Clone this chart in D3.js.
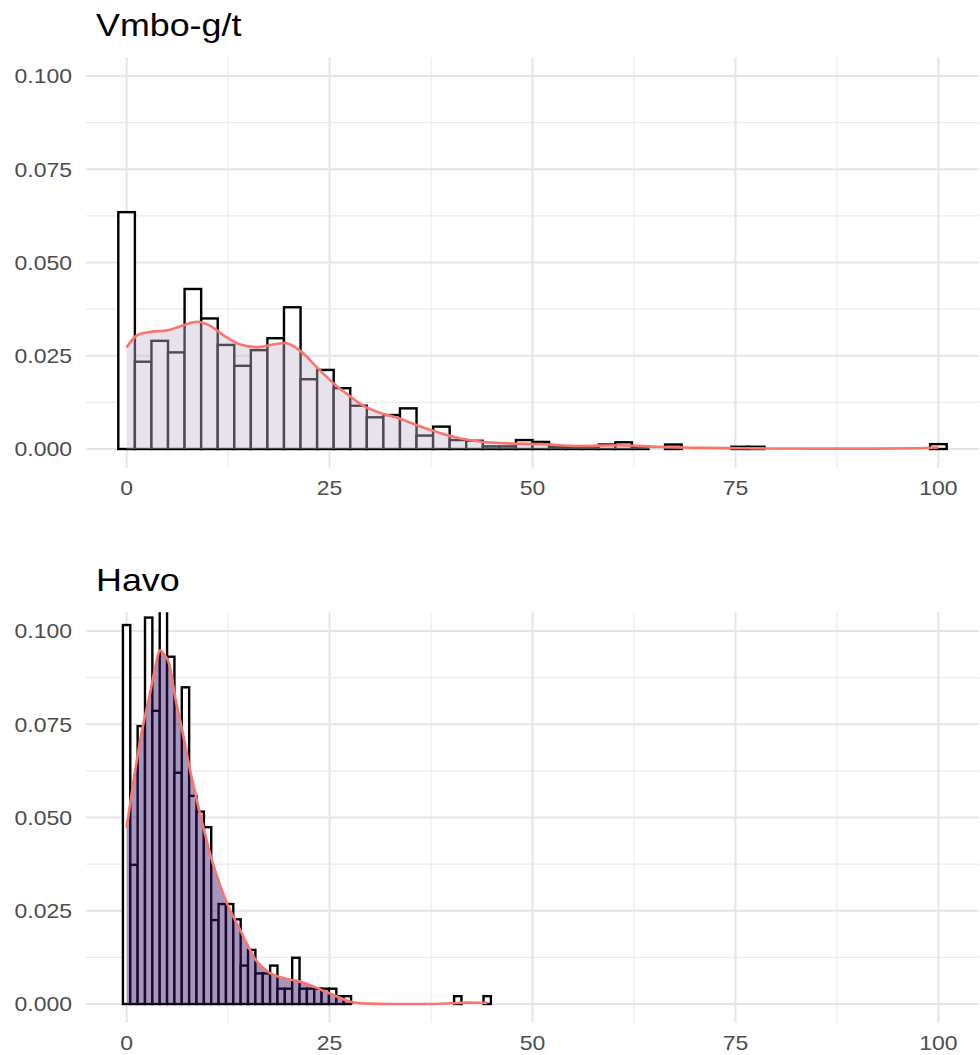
<!DOCTYPE html>
<html><head><meta charset="utf-8">
<script src="https://cdn.jsdelivr.net/npm/d3@7"></script>
<style>body{margin:0;background:#fff} svg{display:block}</style>
</head><body><svg id="chart" width="980" height="1055"></svg>
<script>
// ---------- data ----------
const panelTitles = ["Vmbo-g/t", "Havo"];
const xTicks = [0, 25, 50, 75, 100];
const xTickLabels = ["0", "25", "50", "75", "100"];
const xMinor = [12.5, 37.5, 62.5, 87.5];
const yTicks = [0, 0.025, 0.05, 0.075, 0.1];
const yTickLabels = ["0.000", "0.025", "0.050", "0.075", "0.100"];
const yMinor = [0.0125, 0.0375, 0.0625, 0.0875];

// histogram: 50 bins centred from 0 to the data maximum
const vmboMax = 100;
const vmboHist = [0.0635, 0.0234, 0.0290, 0.0259, 0.0429, 0.0350, 0.0279, 0.0223, 0.0265, 0.0297,
  0.0380, 0.0187, 0.0212, 0.0163, 0.0116, 0.0085, 0.0091, 0.0109, 0.0036, 0.0060,
  0.0024, 0.0022, 0.0007, 0.0007, 0.0024, 0.0019, 0.0006, 0.0006, 0.0006, 0.0012,
  0.0018, 0.0006, 0, 0.0012, 0, 0, 0, 0.0006, 0.0006, 0,
  0, 0, 0, 0, 0, 0, 0, 0, 0, 0.0013];
const havoMax = 44.42;
const havoHist = [0.1016, 0.0373, 0.0745, 0.1036, 0.0786, 0.1120, 0.0931, 0.0620, 0.0849, 0.0558,
  0.0516, 0.0474, 0.0225, 0.0268, 0.0268, 0.0227, 0.0103, 0.0145, 0.0082, 0.0082,
  0.0103, 0.0041, 0.0041, 0.0124, 0.0041, 0.0041, 0.0041, 0.0041, 0.0041, 0.0021,
  0.0021, 0, 0, 0, 0, 0, 0, 0, 0, 0,
  0, 0, 0, 0, 0, 0.0021, 0, 0, 0, 0.0021];

// density curves
const vmboDensX = [0, 1.3, 3, 5, 7, 8.7, 10.3, 12, 14, 16, 18, 19.5, 21.4, 23.5, 25.5, 27.6, 29,
  31.2, 33.7, 36.1, 38.6, 41, 43.5, 47, 51, 55.7, 60.6, 65.5, 70.3, 76, 85, 92, 97, 100];
const vmboDensY = [0.0272, 0.0305, 0.0314, 0.0318, 0.0332, 0.0341, 0.0330, 0.0304, 0.0280, 0.0273,
  0.0280, 0.0284, 0.0263, 0.0218, 0.0176, 0.0140, 0.0118, 0.0097, 0.0081, 0.0061, 0.0043,
  0.0029, 0.0020, 0.0015, 0.0013, 0.0008, 0.0010, 0.0006, 0.0003, 0.0002, 0.0001, 0.0001,
  0.0002, 0.0004];
const havoDensX = [0, 0.8, 1.7, 3.0, 3.6, 4.1, 4.7, 5.2, 6.1, 6.65, 7.9, 9.1, 10.75, 12.4, 14.0,
  15.1, 15.9, 17.3, 19.4, 21.0, 23.1, 25.5, 27.6, 29.5, 33, 37, 40, 42, 44.42];
const havoDensY = [0.0473, 0.0590, 0.0710, 0.0845, 0.0910, 0.0948, 0.0935, 0.0915, 0.0810, 0.0755,
  0.0619, 0.0505, 0.0368, 0.0268, 0.0198, 0.0149, 0.0118, 0.0088, 0.0069, 0.0062, 0.0046,
  0.0024, 0.0006, 0.0001, 0, 0, 0.0002, 0.0004, 0.0003];

const panels = [
  {title: panelTitles[0], max: vmboMax, hist: vmboHist, dx: vmboDensX, dy: vmboDensY,
   top: 57.35, fill: "rgb(198,183,210)", alpha: 0.4},
  {title: panelTitles[1], max: havoMax, hist: havoHist, dx: havoDensX, dy: havoDensY,
   top: 612.35, fill: "rgb(60,22,104)", alpha: 0.45}
];

// ---------- drawing ----------
const svg = d3.select("#chart");
const left = 86, right = 979, panelH = 410.3;
const x = d3.scaleLinear().domain([-5, 105]).range([left, right]);
const SX = 1.15;

panels.forEach((p, pi) => {
  const y = d3.scaleLinear().domain([-0.005, 0.105]).range([p.top + panelH, p.top]);
  const g = svg.append("g");
  const clipId = "clip" + pi;
  svg.append("clipPath").attr("id", clipId).append("rect")
    .attr("x", left).attr("y", p.top).attr("width", right - left).attr("height", panelH);

  // grid
  g.selectAll(".vmin").data(xMinor).join("line")
    .attr("x1", d => x(d)).attr("x2", d => x(d)).attr("y1", p.top).attr("y2", p.top + panelH)
    .attr("stroke", "#EBEBEB").attr("stroke-width", 1.1);
  g.selectAll(".hmin").data(yMinor).join("line")
    .attr("y1", d => y(d)).attr("y2", d => y(d)).attr("x1", left).attr("x2", right)
    .attr("stroke", "#EBEBEB").attr("stroke-width", 1.1);
  g.selectAll(".vmaj").data(xTicks).join("line")
    .attr("x1", d => x(d)).attr("x2", d => x(d)).attr("y1", p.top).attr("y2", p.top + panelH)
    .attr("stroke", "#E6E6E6").attr("stroke-width", 2.1);
  g.selectAll(".hmaj").data(yTicks).join("line")
    .attr("y1", d => y(d)).attr("y2", d => y(d)).attr("x1", left).attr("x2", right)
    .attr("stroke", "#E6E6E6").attr("stroke-width", 2.1);

  // histogram
  const w = p.max / (p.hist.length - 1);
  const gc = g.append("g").attr("clip-path", `url(#${clipId})`);
  gc.selectAll("rect.bar").data(p.hist).join("rect").attr("class", "bar")
    .attr("x", (d, i) => x(i * w - w / 2))
    .attr("width", (d, i) => x(i * w + w / 2) - x(i * w - w / 2))
    .attr("y", d => y(d))
    .attr("height", d => y(0) - y(d))
    .attr("fill", "#fff").attr("stroke", "#000").attr("stroke-width", 2.4);

  // density
  const pts = p.dx.map((v, i) => [v, p.dy[i]]);
  const area = d3.area().x(d => x(d[0])).y0(y(0)).y1(d => y(d[1])).curve(d3.curveMonotoneX);
  const line = d3.line().x(d => x(d[0])).y(d => y(d[1])).curve(d3.curveMonotoneX);
  gc.append("path").attr("d", area(pts)).attr("fill", p.fill).attr("fill-opacity", p.alpha);
  gc.append("path").attr("d", line(pts)).attr("fill", "none")
    .attr("stroke", "#F8766D").attr("stroke-width", 2.6).attr("stroke-linejoin", "round");

  // axis labels
  g.selectAll(".yl").data(yTicks).join("text")
    .attr("transform", d => `translate(72,${y(d) + 7.3}) scale(${SX},1)`)
    .attr("text-anchor", "end").attr("font-family", "Liberation Sans, Arial, sans-serif")
    .attr("font-size", 20).attr("fill", "#4D4D4D")
    .text((d, i) => yTickLabels[i]);
  g.selectAll(".xl").data(xTicks).join("text")
    .attr("transform", d => `translate(${x(d)},${p.top + panelH + 27.5}) scale(${SX},1)`)
    .attr("text-anchor", "middle").attr("font-family", "Liberation Sans, Arial, sans-serif")
    .attr("font-size", 20).attr("fill", "#4D4D4D")
    .text((d, i) => xTickLabels[i]);

  // title
  g.append("text")
    .attr("transform", `translate(96,${p.top - 21.5}) scale(1.12,1)`)
    .attr("font-family", "Liberation Sans, Arial, sans-serif")
    .attr("font-size", 32).attr("fill", "#000").text(p.title);
});
</script>
</body></html>
